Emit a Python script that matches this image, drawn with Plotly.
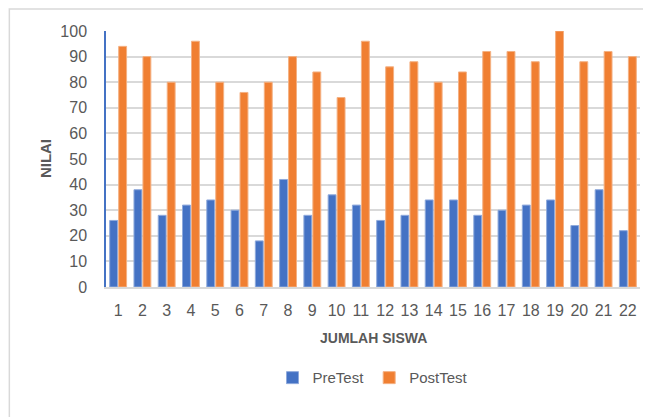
import plotly.graph_objects as go

siswa = [str(i) for i in range(1, 23)]
pretest = [26, 38, 28, 32, 34, 30, 18, 42, 28, 36, 32, 26, 28, 34, 34, 28, 30, 32, 34, 24, 38, 22]
posttest = [94, 90, 80, 96, 80, 76, 80, 90, 84, 74, 96, 86, 88, 80, 84, 92, 92, 88, 100, 88, 92, 90]

font_family = "Liberation Sans, Arial, sans-serif"
grey = "#595959"

fig = go.Figure()
fig.add_trace(go.Bar(x=siswa, y=pretest, name="PreTest",
                     marker=dict(color="#4472C4", line=dict(color="#8FAADC", width=1))))
fig.add_trace(go.Bar(x=siswa, y=posttest, name="PostTest",
                     marker=dict(color="#F07F32", line=dict(color="#F4B183", width=1))))

# page body offsets the figure by 8px; figure is sized to fill the rest of the window
fig.update_layout(
    width=643, height=409,
    margin=dict(l=98, r=11, t=23, b=130, autoexpand=False),
    paper_bgcolor="white", plot_bgcolor="white",
    barmode="group", bargap=0.26, bargroupgap=0.12,
    font=dict(family=font_family, color=grey, size=15),
    showlegend=True,
    legend=dict(orientation="h", x=0.5, xanchor="center", y=-0.355, yanchor="middle",
                font=dict(size=15, color=grey), itemwidth=30, traceorder="normal"),
    xaxis=dict(
        tickfont=dict(size=16, color=grey), showgrid=False, automargin=False,
        showline=True, linecolor="#D9D9D9", linewidth=1.5, ticks="",
        ticklabelstandoff=8,
    ),
    yaxis=dict(
        range=[0, 100], dtick=10, tickfont=dict(size=16, color=grey), automargin=False,
        showgrid=True, gridcolor="#D9D9D9", gridwidth=1.5,
        showline=True, linecolor="#4472C4", linewidth=1.5, zeroline=False, ticks="",
        ticklabelstandoff=14,
    ),
    annotations=[
        dict(text="<b>JUMLAH SISWA</b>", xref="paper", yref="paper", x=0.5, y=-0.2,
             xanchor="center", yanchor="middle", showarrow=False,
             font=dict(size=14, color=grey)),
        dict(text="<b>NILAI</b>", xref="paper", yref="paper", x=-0.114, y=0.5,
             xanchor="center", yanchor="middle", showarrow=False, textangle=-90,
             font=dict(size=15, color=grey)),
    ],
    shapes=[dict(type="rect", xref="paper", yref="paper",
                 x0=-0.181, x1=1.05, y0=-0.56, y1=1.086,
                 line=dict(color="#D9D9D9", width=1.5), fillcolor="rgba(0,0,0,0)", layer="below")],
)

fig.write_html("out.html")
